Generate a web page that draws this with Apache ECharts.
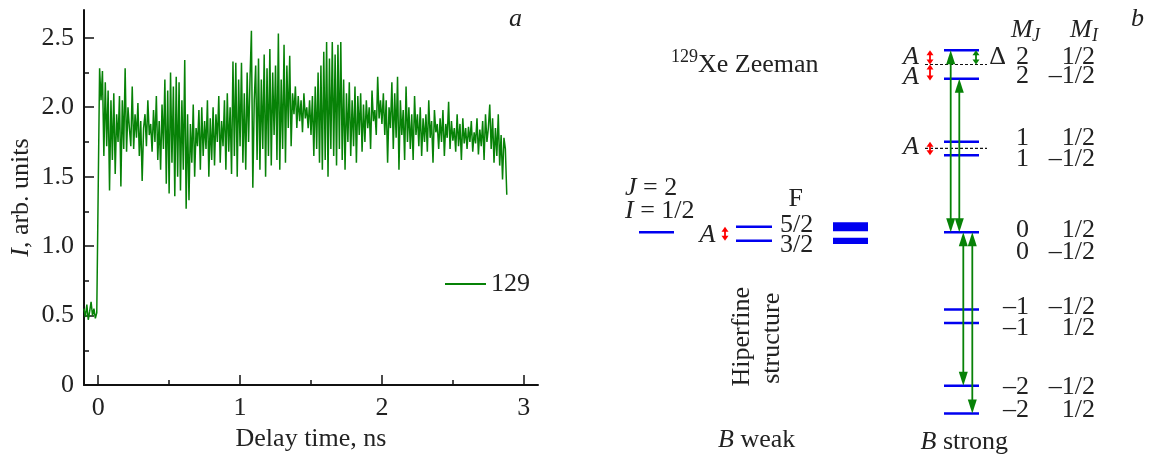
<!DOCTYPE html>
<html>
<head>
<meta charset="utf-8">
<script src="https://cdn.jsdelivr.net/npm/echarts@6/dist/echarts.min.js"></script>
<style>
html,body{margin:0;padding:0;background:#fff;}
#c{width:1149px;height:457px;}
</style>
</head>
<body>
<div id="c"></div>
<script>
// ---------------- Panel a data ----------------
const timeStart = -0.10;   // ns
const timeStep = 0.01;     // ns
const signal129 = [
 0.55,0.49,0.58,0.47,0.53,0.60,0.50,0.55,0.48,0.52,
 0.52,2.28,2.05,2.26,1.65,2.18,1.72,2.12,1.40,2.05,
 1.62,2.10,1.52,1.95,1.75,2.08,1.43,2.05,1.70,2.28,
 1.68,2.00,1.85,1.72,2.15,1.70,1.95,1.78,2.03,1.65,
 1.90,1.47,1.85,1.95,1.72,2.05,1.80,1.88,1.68,1.98,
 1.75,2.08,1.62,1.90,1.55,2.02,1.70,2.20,1.45,2.12,
 1.38,2.25,1.60,2.15,1.36,2.22,1.50,2.18,1.40,2.05,
 1.55,2.34,1.27,1.95,1.33,1.88,1.60,2.02,1.50,1.85,
 1.72,1.98,1.55,2.00,1.65,1.90,1.70,2.05,1.50,1.92,
 1.62,2.00,1.58,1.95,1.75,2.08,1.60,1.90,1.72,2.05,
 1.55,2.10,1.68,2.00,1.52,2.33,1.65,2.32,1.50,2.20,
 1.72,2.32,1.60,2.10,1.55,2.25,1.75,2.20,2.55,1.42,
 2.05,2.30,1.62,2.35,1.55,2.20,1.70,2.38,1.50,2.28,
 1.65,2.42,1.58,2.25,1.80,2.30,1.62,2.53,1.55,2.20,
 1.70,2.45,1.60,2.30,1.85,2.37,1.72,2.10,1.95,2.15,
 1.85,2.08,1.90,2.05,1.82,2.10,1.92,2.00,1.85,2.05,
 1.80,2.08,1.65,2.15,1.70,2.25,1.60,2.30,1.55,2.40,
 1.62,2.47,1.50,2.35,1.70,2.47,1.65,2.38,1.58,2.45,
 1.70,2.47,1.62,2.20,1.55,2.10,1.75,2.18,1.65,2.05,
 1.72,2.15,1.60,2.08,1.80,2.10,1.68,2.02,1.75,2.05,
 1.85,2.00,1.70,2.12,1.90,1.98,1.80,2.22,1.92,2.05,
 1.88,2.10,1.80,2.05,1.60,2.00,1.85,2.18,1.70,2.10,
 1.78,2.22,1.55,2.05,1.80,1.98,1.62,2.15,1.75,2.00,
 1.70,1.95,1.62,2.08,1.80,1.95,1.72,2.00,1.65,1.92,
 1.75,1.95,1.68,2.05,1.78,1.90,1.60,1.98,1.82,1.88,
 1.70,1.92,1.75,1.98,1.65,1.88,1.78,2.04,1.70,1.90,
 1.76,1.85,1.68,1.95,1.72,1.88,1.62,1.92,1.74,1.85,
 1.70,1.86,1.75,1.90,1.68,1.82,1.74,1.92,1.66,1.84,
 1.72,1.90,1.62,1.95,1.75,1.85,2.02,1.70,1.92,1.60,
 1.85,1.65,1.95,1.58,1.80,1.48,1.78,1.70,1.37
];
const xMajorTicks = [0, 1, 2, 3];
const xMinorTicks = [0.5, 1.5, 2.5];
const yMajorTicks = [0, 0.5, 1.0, 1.5, 2.0, 2.5];
const yMinorTicks = [0.25, 0.75, 1.25, 1.75, 2.25];
const seriesName = '129';

// ---------------- Panel b data (x: diagram units, E: energy units) ----------------
const strongLevelX = [344, 379];
const strongLevelE = [2.17, 1.83, 1.08, 0.92, 0, -0.92, -1.08, -1.83, -2.16];
const weakJLevel = [[39, 74, 0]];
const weakFLevels = [[136, 172, 0.067], [136, 172, -0.10]];
const equalBars = [[233, 268, 0.119, 0.012], [233, 268, -0.064, -0.139]];
const dashedLines = [[325, 387, 2.0], [325, 387, 1.0]];
const greenArrows = [[350.7, 0, 2.17], [359.3, 0, 1.83], [363.3, 0, -1.83], [372.3, 0, -2.16]];
const deltaArrow = [[376, 2.17, 2.0]];
const redArrows = [[330, 2.17, 2.0], [330, 2.0, 1.81], [330, 1.08, 0.92], [125, 0.067, -0.10]];

const mjLabels = ['2', '2', '1', '1', '0', '0', '\u20131', '\u20131', '\u20132', '\u20132'];
const miLabels = ['1/2', '\u20131/2', '1/2', '\u20131/2', '1/2', '\u20131/2', '\u20131/2', '1/2', '\u20131/2', '1/2'];
const rowLabelE = [2.093, 1.865, 1.120, 0.874, 0.027, -0.231, -0.896, -1.144, -1.850, -2.118];
const mjColumnX = 429;
const miColumnX = 495;

const leftTexts = ['{i|J} = 2', '{i|I} = 1/2', '5/2', '3/2', 'Xe Zeeman', '{i|M}', '{s|J}', '{i|M}', '{s|I}'];
const leftTextX = [25, 25, 180, 180, 98, 411, 432, 470, 492];
const leftTextE = [0.524, 0.257, 0.087, -0.151, 1.994, 2.411, 2.331, 2.411, 2.331];

const rightTexts = ['{s|129}'];
const rightTextX = [98];
const rightTextE = [2.089];

const centerTexts = ['F', '{i|A}', '{i|A}', '{i|A}', '{i|A}', '\u0394', '{i|B} weak', '{i|B} strong'];
const centerTextX = [195.8, 107.5, 311, 311, 311, 397.5, 156.7, 364.2];
const centerTextE = [0.397, -0.032, 2.089, 1.855, 1.011, 2.093, -2.476, -2.496];

const verticalTexts = ['Hiperfine', 'structure'];
const verticalTextX = [142.5, 172.5];
const verticalTextE = [-1.244, -1.263];

// ---------------- styling ----------------
const FONT = 'Liberation Serif';
const TXT = '#222';
const FS = 26;
const GREEN = '#078207';
const BLUE = '#0000f0';
const richStyles = {
  i: {fontStyle: 'italic', fontSize: FS, fontFamily: FONT, fill: TXT, color: TXT},
  s: {fontSize: 18, fontFamily: FONT, fill: TXT, color: TXT, fontStyle: 'italic'}
};
const richSup = {
  i: richStyles.i,
  s: {fontSize: 18, fontFamily: FONT, fill: TXT, color: TXT}
};

function levelItem(color, lw, dash) {
  return function (params, api) {
    const p1 = api.coord([api.value(0), api.value(2)]);
    const p2 = api.coord([api.value(1), api.value(2)]);
    return {type: 'line', shape: {x1: p1[0], y1: p1[1], x2: p2[0], y2: p2[1]},
      style: {stroke: color, lineWidth: lw, lineDash: dash || null}};
  };
}
function rectItem(color) {
  return function (params, api) {
    const p1 = api.coord([api.value(0), api.value(2)]);
    const p2 = api.coord([api.value(1), api.value(3)]);
    return {type: 'rect', shape: {x: p1[0], y: p1[1], width: p2[0] - p1[0], height: p2[1] - p1[1]},
      style: {fill: color}};
  };
}
function arrowItem(color, lw, headW, headL) {
  return function (params, api) {
    const x = api.value(0);
    const p1 = api.coord([x, api.value(1)]);
    const p2 = api.coord([x, api.value(2)]);
    const d = p2[1] > p1[1] ? 1 : -1;
    return {type: 'group', children: [
      {type: 'line', shape: {x1: p1[0], y1: p1[1] + d * headL * 0.6, x2: p2[0], y2: p2[1] - d * headL * 0.6},
        style: {stroke: color, lineWidth: lw}},
      {type: 'polygon', shape: {points: [[p2[0], p2[1]], [p2[0] - headW / 2, p2[1] - d * headL], [p2[0] + headW / 2, p2[1] - d * headL]]},
        style: {fill: color}},
      {type: 'polygon', shape: {points: [[p1[0], p1[1]], [p1[0] - headW / 2, p1[1] + d * headL], [p1[0] + headW / 2, p1[1] + d * headL]]},
        style: {fill: color}}
    ]};
  };
}
function textItem(texts, align, rotation, rich) {
  return function (params, api) {
    const p = api.coord([api.value(0), api.value(1)]);
    return {type: 'text', x: p[0], y: p[1], rotation: rotation || 0,
      style: {text: texts[params.dataIndex], fill: TXT, fontSize: FS, fontFamily: FONT,
        align: align, verticalAlign: 'middle', rich: rich || richStyles}};
  };
}
function zip2(xs, es) { return xs.map((x, i) => [x, es[i]]); }

const signalData = signal129.map((v, i) => [+(timeStart + i * timeStep).toFixed(3), v]);
const strongLevels = strongLevelE.map(e => [strongLevelX[0], strongLevelX[1], e]);
const allLevels = strongLevels.concat(weakJLevel, weakFLevels);

const diag = {xAxisIndex: 2, yAxisIndex: 2, clip: false, silent: true, animation: false};

const option = {
  animation: false,
  textStyle: {fontFamily: FONT},
  title: [
    {text: 'a', left: 509, top: 6, padding: 0,
      textStyle: {fontStyle: 'italic', fontWeight: 'normal', fontSize: FS, fontFamily: FONT, color: TXT}},
    {text: 'b', left: 1131, top: 6, padding: 0,
      textStyle: {fontStyle: 'italic', fontWeight: 'normal', fontSize: FS, fontFamily: FONT, color: TXT}}
  ],
  legend: {
    left: 445, top: 271, itemWidth: 41, itemHeight: 2, padding: 0, itemGap: 5,
    icon: 'rect',
    data: [{name: seriesName, icon: 'rect'}],
    itemStyle: {color: GREEN},
    textStyle: {fontSize: FS, fontFamily: FONT, color: TXT}
  },
  grid: [
    {left: 84, top: 10, width: 454, height: 383},
    {left: 600, top: 0, width: 549, height: 457}
  ],
  xAxis: [
    {gridIndex: 0, type: 'value', min: -0.1, max: 3.1, position: 'bottom',
      name: 'Delay time, ns', nameLocation: 'middle', nameGap: 36,
      nameTextStyle: {fontSize: FS, fontFamily: FONT, color: TXT},
      axisLine: {show: true, onZero: false, lineStyle: {color: '#111', width: 2}},
      axisTick: {show: true, inside: true, length: 10, customValues: xMajorTicks, lineStyle: {color: '#111', width: 1.5}},
      axisLabel: {show: true, customValues: xMajorTicks, margin: 10, fontSize: FS, fontFamily: FONT, color: TXT},
      splitLine: {show: false}},
    {gridIndex: 0, type: 'value', min: -0.1, max: 3.1, position: 'bottom',
      axisLine: {show: false, onZero: false},
      axisTick: {show: true, inside: true, length: 5, customValues: xMinorTicks, lineStyle: {color: '#111', width: 1.5}},
      axisLabel: {show: false}, splitLine: {show: false}},
    {gridIndex: 1, type: 'value', min: 0, max: 549, show: false}
  ],
  yAxis: [
    {gridIndex: 0, type: 'value', min: 0, max: 2.7, position: 'left',
      name: '{i|I}, arb. units', nameLocation: 'middle', nameGap: 50, nameRotate: 90,
      nameTextStyle: {fontSize: FS, fontFamily: FONT, color: TXT,
        rich: {i: {fontStyle: 'italic', fontSize: FS, fontFamily: FONT, color: TXT}}},
      axisLine: {show: true, onZero: false, lineStyle: {color: '#111', width: 2}},
      axisTick: {show: true, inside: true, length: 10, customValues: yMajorTicks, lineStyle: {color: '#111', width: 1.5}},
      axisLabel: {show: true, customValues: yMajorTicks, margin: 10, fontSize: FS, fontFamily: FONT, color: TXT,
        formatter: v => (v === 0 ? '0' : v.toFixed(1))},
      splitLine: {show: false}},
    {gridIndex: 0, type: 'value', min: 0, max: 2.7, position: 'left',
      axisLine: {show: false, onZero: false},
      axisTick: {show: true, inside: true, length: 5, customValues: yMinorTicks, lineStyle: {color: '#111', width: 1.5}},
      axisLabel: {show: false}, splitLine: {show: false}},
    {gridIndex: 1, type: 'value', min: -2.678, max: 2.769, show: false}
  ],
  series: [
    {name: seriesName, type: 'line', xAxisIndex: 0, yAxisIndex: 0, data: signalData,
      symbol: 'none', showSymbol: false, lineStyle: {color: GREEN, width: 1.5}, itemStyle: {color: GREEN}},
    Object.assign({type: 'custom', data: allLevels, renderItem: levelItem(BLUE, 2.5)}, diag),
    Object.assign({type: 'custom', data: equalBars, renderItem: rectItem(BLUE)}, diag),
    Object.assign({type: 'custom', data: dashedLines, renderItem: levelItem('#111', 1.2, [3, 2])}, diag),
    Object.assign({type: 'custom', data: greenArrows, renderItem: arrowItem(GREEN, 1.8, 9, 14)}, diag),
    Object.assign({type: 'custom', data: deltaArrow, renderItem: arrowItem(GREEN, 1.8, 7, 5)}, diag),
    Object.assign({type: 'custom', data: redArrows, renderItem: arrowItem('#ff0000', 1.8, 7, 5)}, diag),
    Object.assign({type: 'custom', data: rowLabelE.map(e => [mjColumnX, e]), renderItem: textItem(mjLabels, 'right')}, diag),
    Object.assign({type: 'custom', data: rowLabelE.map(e => [miColumnX, e]), renderItem: textItem(miLabels, 'right')}, diag),
    Object.assign({type: 'custom', data: zip2(leftTextX, leftTextE), renderItem: textItem(leftTexts, 'left')}, diag),
    Object.assign({type: 'custom', data: zip2(rightTextX, rightTextE), renderItem: textItem(rightTexts, 'right', 0, richSup)}, diag),
    Object.assign({type: 'custom', data: zip2(centerTextX, centerTextE), renderItem: textItem(centerTexts, 'center')}, diag),
    Object.assign({type: 'custom', data: zip2(verticalTextX, verticalTextE), renderItem: textItem(verticalTexts, 'center', Math.PI / 2)}, diag)
  ]
};

const chart = echarts.init(document.getElementById('c'), null, {renderer: 'canvas'});
chart.setOption(option);
</script>
</body>
</html>
